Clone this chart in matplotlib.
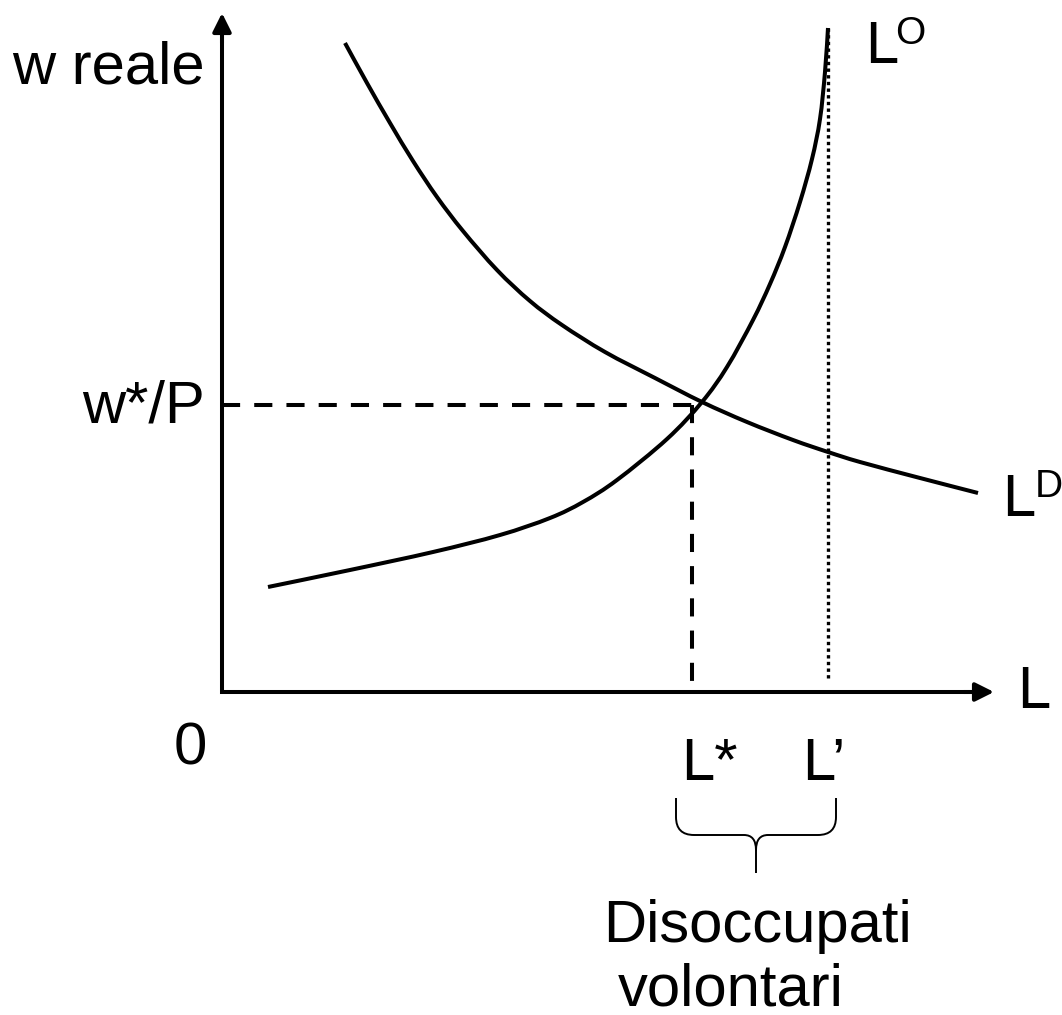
import matplotlib
matplotlib.use("Agg")
import matplotlib.pyplot as plt
from matplotlib.path import Path
from matplotlib.patches import PathPatch

plt.rcParams['font.family'] = ['Liberation Sans', 'DejaVu Sans']

# curve points (units: 1 = 100 px, origin at the axes crossing)
ld_x = [1.23, 1.45, 1.68, 1.91, 2.15, 2.41, 2.75, 3.08, 3.40, 3.83, 4.33, 4.80,
        5.25, 5.71, 6.06, 6.38, 6.98, 7.56]
ld_y = [6.49, 6.09, 5.69, 5.31, 4.95, 4.61, 4.22, 3.91, 3.67, 3.40, 3.14, 2.90,
        2.70, 2.52, 2.40, 2.30, 2.14, 1.99]

lo_x = [0.46, 1.28, 2.11, 2.78, 3.28, 3.61, 3.95, 4.45, 4.80, 5.05, 5.31, 5.48,
        5.63, 5.78, 5.90, 5.98, 6.03, 6.06]
lo_y = [1.05, 1.22, 1.40, 1.57, 1.74, 1.90, 2.12, 2.53, 2.90, 3.25, 3.72, 4.08,
        4.45, 4.90, 5.33, 5.73, 6.20, 6.64]

w_eq = 2.87
l_eq = 4.70
l_prime = 6.06
x_max = 7.72
y_max = 6.79


def smooth_path(xs, ys):
    # cubic bezier through the points (catmull-rom tangents)
    pts = list(zip(xs, ys))
    verts = [pts[0]]
    codes = [Path.MOVETO]
    for i in range(len(pts) - 1):
        p0 = pts[i - 1] if i > 0 else pts[i]
        p1, p2 = pts[i], pts[i + 1]
        p3 = pts[i + 2] if i + 2 < len(pts) else pts[i + 1]
        c1 = (p1[0] + (p2[0] - p0[0]) / 6, p1[1] + (p2[1] - p0[1]) / 6)
        c2 = (p2[0] - (p3[0] - p1[0]) / 6, p2[1] - (p3[1] - p1[1]) / 6)
        verts += [c1, c2, p2]
        codes += [Path.CURVE4] * 3
    return Path(verts, codes)


fig = plt.figure(figsize=(10.62, 10.15), dpi=100)
ax = fig.add_axes([0, 0, 1, 1])
ax.set_xlim(-2.22, 8.40)
ax.set_ylim(-3.23, 6.92)
ax.axis('off')

lw = 2.9
# axes with arrows
ax.plot([0, 0, x_max - 0.1], [y_max - 0.1, 0, 0], color='black', lw=lw,
        solid_joinstyle='miter', solid_capstyle='butt')
arrow = dict(arrowstyle='-|>', lw=lw, color='black', mutation_scale=28,
             shrinkA=0, shrinkB=0)
ax.annotate('', xy=(x_max, 0), xytext=(x_max - 0.3, 0), arrowprops=arrow)
ax.annotate('', xy=(0, y_max), xytext=(0, y_max - 0.3), arrowprops=arrow)

# curves
for xs, ys in [(ld_x, ld_y), (lo_x, lo_y)]:
    ax.add_patch(PathPatch(smooth_path(xs, ys), fill=False, lw=lw, color='black',
                           capstyle='butt'))

# guides
dash = (0, (4.5, 3.5))
ax.plot([0, l_eq + 0.05], [w_eq, w_eq], color='black', lw=lw, ls=dash)
ax.plot([l_eq, l_eq], [w_eq, 0.02], color='black', lw=lw, ls=dash)
ax.plot([l_prime, l_prime], [6.64, 0.12], color='black', lw=2.4, ls=(0, (1, 1)))

fs = 43
ax.text(-0.17, 6.24, 'w reale', fontsize=fs, ha='right', va='center')
ax.text(-0.17, w_eq - 0.02, 'w*/P', fontsize=fs, ha='right', va='center')
ax.text(-0.32, -0.57, '0', fontsize=fs, ha='center', va='center')
ax.text(7.95, 0.0, 'L', fontsize=fs, ha='left', va='center')
ax.text(4.87, -0.72, 'L*', fontsize=fs, ha='center', va='center')
ax.text(6.02, -0.72, 'L\u2019', fontsize=fs, ha='center', va='center')

# supply / demand labels with superscripts
ax.text(6.43, 6.45, 'L', fontsize=fs, ha='left', va='center')
ax.text(6.88, 6.58, 'O', fontsize=28, ha='center', va='center')
ax.text(7.80, 1.92, 'L', fontsize=fs, ha='left', va='center')
ax.text(8.27, 2.05, 'D', fontsize=28, ha='center', va='center')

# brace under L* .. L'
bx0, bx1, bxm = 4.54, 6.14, 5.34
by_top, by_mid, by_tip = -1.06, -1.43, -1.81
r = 0.18
verts = [(bx0, by_top), (bx0, by_mid + r), (bx0, by_mid), (bx0 + r, by_mid),
         (bxm - 0.12, by_mid), (bxm, by_mid), (bxm, by_mid - 0.15), (bxm, by_tip),
         (bxm, by_mid - 0.15), (bxm, by_mid), (bxm + 0.12, by_mid),
         (bx1 - r, by_mid), (bx1, by_mid), (bx1, by_mid + r), (bx1, by_top)]
codes = [Path.MOVETO, Path.LINETO, Path.CURVE3, Path.CURVE3,
         Path.LINETO, Path.CURVE3, Path.CURVE3, Path.LINETO,
         Path.MOVETO, Path.CURVE3, Path.CURVE3,
         Path.LINETO, Path.CURVE3, Path.CURVE3, Path.LINETO]
ax.add_patch(PathPatch(Path(verts, codes), fill=False, lw=1.4, color='black'))

ax.text(5.35, -2.50, 'Disoccupati', fontsize=fs, ha='center', va='baseline')
ax.text(5.09, -3.13, 'volontari', fontsize=fs, ha='center', va='baseline')

fig.savefig('out.png', dpi=100)
